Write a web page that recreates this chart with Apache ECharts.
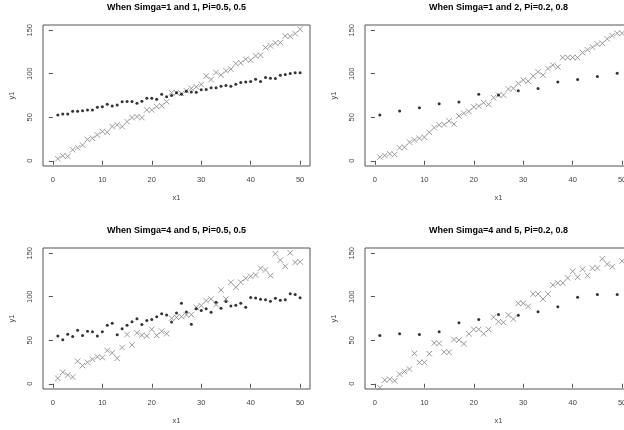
<!DOCTYPE html>
<html>
<head>
<meta charset="utf-8">
<script src="https://cdn.jsdelivr.net/npm/echarts@6.0.0/dist/echarts.min.js"></script>
<style>
  html, body { margin: 0; padding: 0; background: #fff; }
  #main { width: 624px; height: 430px; }
</style>
</head>
<body>
<div id="main"></div>
<script>
// x values of every panel
const x1 = [1, 2, 3, 4, 5, 6, 7, 8, 9, 10, 11, 12, 13, 14, 15, 16, 17, 18, 19, 20,
  21, 22, 23, 24, 25, 26, 27, 28, 29, 30, 31, 32, 33, 34, 35, 36, 37, 38, 39, 40,
  41, 42, 43, 44, 45, 46, 47, 48, 49, 50];
// the Pi=0.2 panels only have a dot every 4th x
const xSparse = [1, 5, 9, 13, 17, 21, 25, 29, 33, 37, 41, 45, 49];

const xTicks = [0, 10, 20, 30, 40, 50];
const yTicks = [0, 50, 100, 150];

const titles = [
  "When Simga=1 and 1, Pi=0.5, 0.5",
  "When Simga=1 and 2, Pi=0.2, 0.8",
  "When Simga=4 and 5, Pi=0.5, 0.5",
  "When Simga=4 and 5, Pi=0.2, 0.8"
];

// panel 1 (top left)
const dots1 = [52.7, 53.8, 53.8, 56.8, 56.8, 57.4, 58.4, 58.4, 61.5, 62.2,
  65.0, 63.0, 64.1, 67.9, 68.2, 68.2, 66.0, 68.3, 71.8, 71.8,
  70.6, 76.5, 73.6, 75.0, 78.2, 76.3, 80.0, 79.0, 78.8, 81.5,
  82.0, 83.8, 84.0, 85.5, 86.5, 85.5, 88.0, 90.0, 90.5, 91.0,
  93.6, 91.0, 95.7, 94.8, 94.6, 98.4, 99.2, 100.3, 101.0, 101.1];
const crosses1 = [2.3, 5.7, 5.0, 12.6, 15.0, 18.0, 24.5, 25.9, 29.7, 33.6,
  32.8, 39.3, 41.2, 39.3, 45.0, 49.6, 50.7, 49.6, 58.4, 58.4,
  62.2, 63.3, 67.9, 78.2, 78.2, 77.4, 80.5, 83.1, 85.0, 87.7,
  97.3, 93.4, 101.4, 98.4, 103.4, 105.3, 111.7, 112.5, 116.7, 115.6,
  120.5, 121.3, 130.1, 132.0, 135.4, 135.8, 143.4, 143.0, 146.1, 151.0];

// panel 2 (top right)
const dots2 = [52.6, 57.2, 61.0, 65.6, 67.5, 76.3, 75.5, 80.5, 83.1, 90.4, 93.4, 96.9, 100.7];
const crosses2 = [4.2, 6.1, 8.0, 7.2, 14.9, 15.6, 21.4, 24.0, 25.9, 27.1,
  32.8, 38.1, 41.2, 41.6, 45.8, 42.3, 51.5, 54.5, 56.8, 61.8,
  62.9, 66.7, 64.8, 72.5, 75.5, 75.5, 82.4, 83.1, 88.9, 92.7,
  91.5, 97.3, 102.2, 98.4, 106.0, 109.8, 107.9, 118.6, 118.6, 118.6,
  118.6, 124.3, 127.5, 130.5, 134.0, 135.0, 140.0, 143.8, 146.5, 146.5];

// panel 3 (bottom left)
const dots3 = [55.0, 50.5, 57.0, 54.3, 61.5, 55.6, 60.4, 59.8, 54.9, 59.8,
  67.3, 69.4, 56.2, 63.1, 67.3, 71.3, 74.8, 68.1, 72.7, 73.8,
  76.9, 80.4, 79.0, 71.1, 81.3, 92.4, 82.5, 68.5, 86.1, 84.2,
  86.1, 82.3, 93.8, 86.7, 94.4, 89.5, 90.1, 92.4, 88.0, 99.1,
  98.6, 97.0, 96.5, 94.9, 98.2, 95.9, 96.5, 103.4, 102.6, 98.8];
const crosses3 = [6.3, 13.2, 10.1, 7.8, 25.9, 20.9, 24.7, 28.2, 30.9, 30.1,
  38.2, 35.5, 29.3, 41.6, 56.6, 44.7, 58.5, 55.8, 55.0, 62.5,
  55.6, 60.4, 57.5, 75.3, 76.3, 77.1, 79.0, 79.4, 87.8, 89.8,
  95.5, 97.4, 90.9, 107.8, 97.4, 116.6, 110.9, 116.6, 121.2, 123.5,
  125.0, 132.7, 130.8, 124.3, 149.4, 142.0, 135.0, 150.5, 139.4, 140.2];

// panel 4 (bottom right), the cross at x=49 is not visible
const dots4 = [55.4, 57.5, 56.6, 59.8, 70.2, 73.8, 79.6, 78.8, 82.7, 88.4, 99.5, 102.6, 102.6];
const crosses4 = [-4.5, 4.2, 5.3, 3.4, 11.1, 14.2, 16.9, 34.9, 24.5, 24.5,
  34.5, 46.8, 46.4, 36.4, 36.2, 50.8, 50.2, 46.0, 57.3, 62.5,
  62.5, 57.5, 62.5, 76.5, 71.3, 70.6, 79.0, 74.4, 92.4, 92.4,
  88.9, 103.2, 103.2, 97.4, 103.2, 113.5, 115.8, 115.8, 121.6, 129.3,
  122.4, 131.6, 124.3, 132.7, 133.0, 143.6, 137.5, 134.6, null, 140.9];

var chartDom = document.getElementById("main");
var myChart = echarts.init(chartDom, null, { renderer: "canvas" });

const FONT = "Liberation Sans, Arial, sans-serif";
const CROSS = "path://M0,0L10,10M10,0L0,10";

// panels: [left, top] of the plot box in pixels
const boxes = [[43, 25], [365, 25], [43, 248], [365, 248]];
const panels = [
  { dx: x1, dots: dots1, crosses: crosses1 },
  { dx: xSparse, dots: dots2, crosses: crosses2 },
  { dx: x1, dots: dots3, crosses: crosses3 },
  { dx: xSparse, dots: dots4, crosses: crosses4 }
];
const BOX_W = 267, BOX_H = 141;

const pairs = (xs, ys) => {
  var out = [];
  for (var i = 0; i < xs.length; i++) {
    if (ys[i] !== null) out.push([xs[i], ys[i]]);
  }
  return out;
};

var option = {
  animation: false,
  backgroundColor: "#fff",
  title: [],
  grid: [],
  xAxis: [],
  yAxis: [],
  series: []
};

boxes.forEach((b, k) => {
  option.title.push({
    text: titles[k],
    left: b[0] + BOX_W / 2,
    top: b[1] - 22,
    textAlign: "center",
    padding: 0,
    textStyle: { fontSize: 9, fontWeight: "bold", color: "#000", fontFamily: FONT }
  });
  option.grid.push({
    left: b[0], top: b[1], width: BOX_W, height: BOX_H,
    show: true, borderColor: "#555", borderWidth: 1,
    backgroundColor: "transparent", outerBoundsMode: "none"
  });
  option.xAxis.push({
    gridIndex: k, type: "value", min: -2, max: 52,
    axisLine: { show: false },
    splitLine: { show: false },
    axisTick: { show: true, length: 4, customValues: xTicks, lineStyle: { color: "#555" } },
    axisLabel: { customValues: xTicks, fontSize: 7.5, color: "#444", margin: 10, fontFamily: FONT },
    name: "x1", nameLocation: "middle", nameGap: 28,
    nameTextStyle: { fontSize: 7.5, color: "#444", fontFamily: FONT }
  });
  option.yAxis.push({
    gridIndex: k, type: "value", min: -6, max: 156,
    axisLine: { show: false },
    splitLine: { show: false },
    axisTick: { show: true, length: 4, customValues: yTicks, lineStyle: { color: "#555" } },
    axisLabel: { customValues: yTicks, rotate: 90, fontSize: 7.5, color: "#444", margin: 9, fontFamily: FONT },
    name: "y1", nameLocation: "middle", nameGap: 27, nameRotate: 90,
    nameTextStyle: { fontSize: 7.5, color: "#444", fontFamily: FONT }
  });
  var p = panels[k];
  option.series.push({
    type: "scatter", xAxisIndex: k, yAxisIndex: k, silent: true,
    symbol: CROSS, symbolSize: 5.5,
    itemStyle: { color: "none", borderColor: "#838383", borderWidth: 1 },
    data: pairs(x1, p.crosses)
  });
  option.series.push({
    type: "scatter", xAxisIndex: k, yAxisIndex: k, silent: true,
    symbol: "circle", symbolSize: 3,
    itemStyle: { color: "#000" },
    data: pairs(p.dx, p.dots)
  });
});

if (option && typeof option === "object") {
  myChart.setOption(option);
}
</script>
</body>
</html>
